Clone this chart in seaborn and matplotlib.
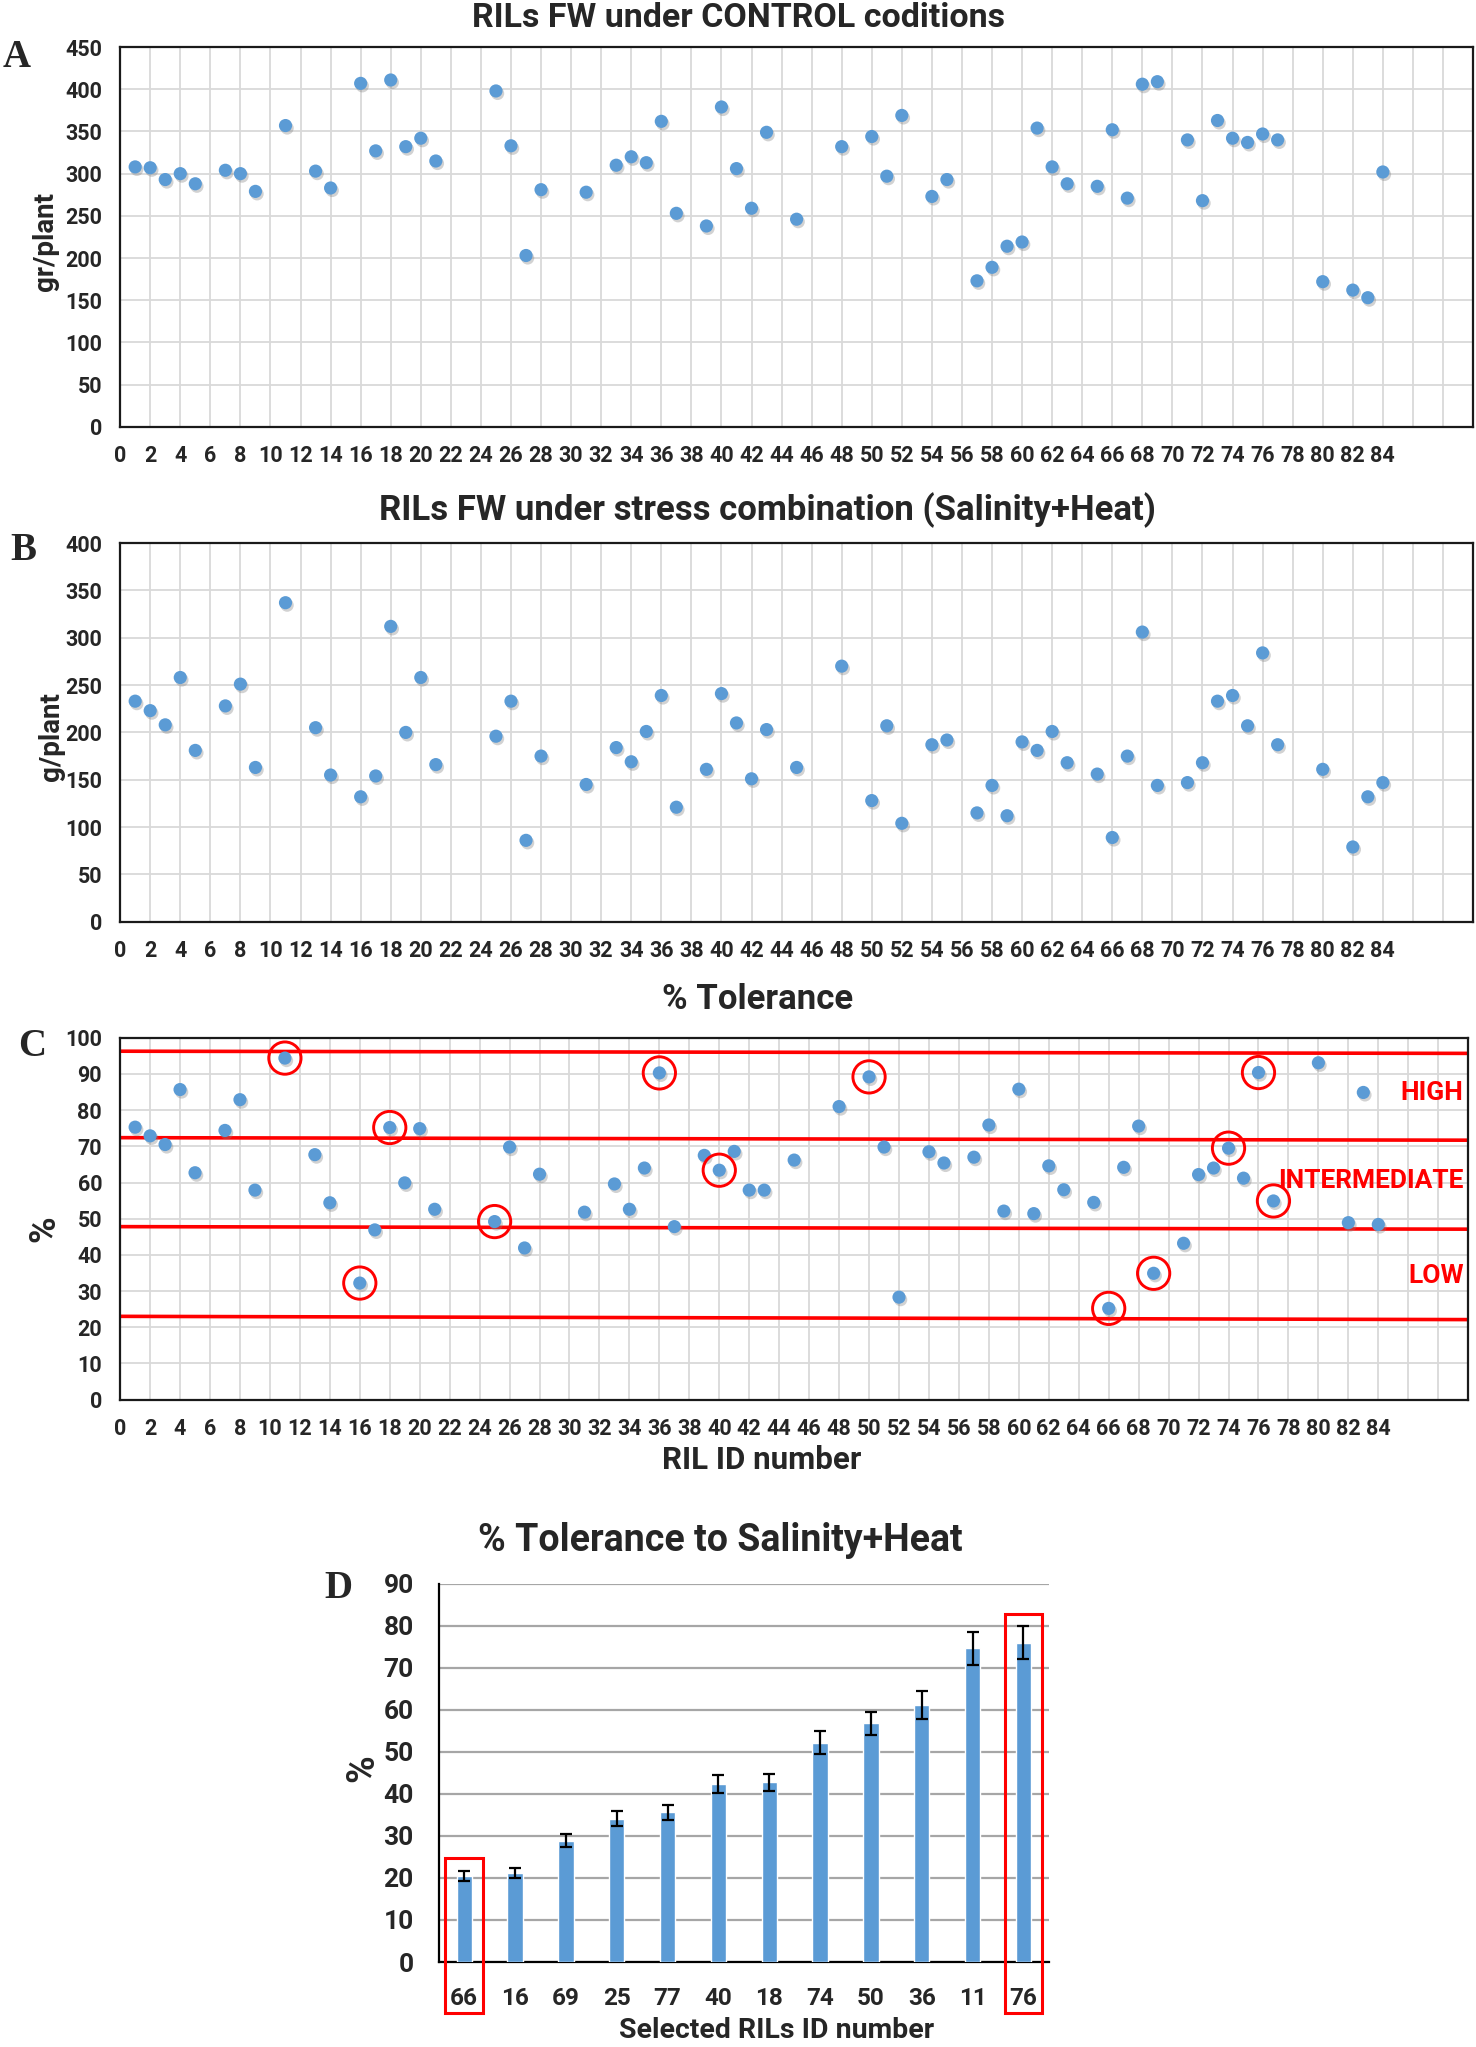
import numpy as np
import pandas as pd
import matplotlib
matplotlib.use("Agg")
import matplotlib.pyplot as plt
import matplotlib.patheffects as pe
from matplotlib.patches import Rectangle
import seaborn as sns

sns.set_theme(style="white")
plt.rcParams['font.family'] = ['Roboto', 'DejaVu Sans']

# ---------------- data ----------------
ril_ids = [1, 2, 3, 4, 5, 7, 8, 9, 11, 13, 14, 16, 17, 18, 19, 20, 21, 25, 26, 27, 28, 31,
           33, 34, 35, 36, 37, 39, 40, 41, 42, 43, 45, 48, 50, 51, 52, 54, 55, 57, 58, 59,
           60, 61, 62, 63, 65, 66, 67, 68, 69, 71, 72, 73, 74, 75, 76, 77, 80, 82, 83, 84]

fw_control = [308, 307, 293, 300, 288, 304, 300, 279, 357, 303, 283, 407, 327, 411, 332, 342,
              315, 398, 333, 203, 281, 278, 310, 320, 313, 362, 253, 238, 379, 306, 259, 349,
              246, 332, 344, 297, 369, 273, 293, 173, 189, 214, 219, 354, 308, 288, 285, 352,
              271, 406, 409, 340, 268, 363, 342, 337, 347, 340, 172, 162, 153, 302]

fw_stress = [233, 223, 208, 258, 181, 228, 251, 163, 337, 205, 155, 132, 154, 312, 200, 258,
             166, 196, 233, 86, 175, 145, 184, 169, 201, 239, 121, 161, 241, 210, 151, 203,
             163, 270, 128, 207, 104, 187, 192, 115, 144, 112, 190, 181, 201, 168, 156, 89,
             175, 306, 144, 147, 168, 233, 239, 207, 284, 187, 161, 79, 132, 147]

tolerance = [75.3, 72.9, 70.5, 85.7, 62.7, 74.4, 82.9, 57.9, 94.4, 67.7, 54.4, 32.2, 46.9, 75.2,
             59.9, 74.9, 52.6, 49.2, 69.8, 41.9, 62.3, 51.8, 59.6, 52.6, 64.0, 90.3, 47.8, 67.5,
             63.4, 68.6, 57.9, 57.9, 66.2, 81.0, 89.2, 69.8, 28.3, 68.5, 65.4, 67.0, 75.9, 52.1,
             85.8, 51.4, 64.6, 58.0, 54.5, 25.2, 64.2, 75.6, 34.9, 43.2, 62.2, 64.0, 69.5, 61.2,
             90.4, 54.9, 93.1, 48.9, 84.9, 48.4]

circled_ids = [11, 16, 18, 25, 36, 40, 50, 66, 69, 74, 76, 77]

threshold_left = [96.3, 72.4, 47.8, 23.0]
threshold_right = [95.7, 71.7, 47.1, 22.1]
class_labels = ["HIGH", "INTERMEDIATE", "LOW"]
class_label_y = [84.7, 60.5, 34.2]

sel_ids = ["66", "16", "69", "25", "77", "40", "18", "74", "50", "36", "11", "76"]
sel_tol = [20.5, 21.1, 28.9, 34.1, 35.6, 42.4, 42.7, 52.2, 56.8, 61.1, 74.6, 75.9]
sel_err = [1.2, 1.2, 1.5, 1.8, 1.8, 2.1, 2.0, 2.7, 2.7, 3.3, 3.9, 3.9]
boxed_ids = ["66", "76"]

x_max = 90
x_last_label = 84

BLUE = "#5B9BD5"
RED = "#FF0000"

fig = plt.figure(figsize=(14.76, 20.47), dpi=100)

axA = fig.add_axes([0.0814, 0.7915, 0.9166, 0.1855])
axB = fig.add_axes([0.0814, 0.5497, 0.9166, 0.1850])
axC = fig.add_axes([0.0814, 0.3163, 0.9133, 0.1767])
axD = fig.add_axes([0.2973, 0.0415, 0.4133, 0.1849])


def style_scatter_axes(ax, ymax, ystep):
    ax.set_xlim(0, x_max)
    ax.set_ylim(0, ymax)
    xt = list(range(0, x_max + 1, 2))
    ax.set_xticks(xt)
    ax.set_xticklabels([str(v) if v <= x_last_label else "" for v in xt])
    ax.set_yticks(list(range(0, ymax + 1, ystep)))
    ax.grid(True, color="#D9D9D9", lw=1.3)
    ax.set_axisbelow(True)
    for s in ax.spines.values():
        s.set_visible(True)
        s.set_color("#1a1a1a")
        s.set_linewidth(1.6)
    ax.tick_params(axis="x", length=0, labelsize=15.5, pad=13)
    ax.tick_params(axis="y", length=0, labelsize=15.5, pad=13)
    for lab in ax.get_xticklabels() + ax.get_yticklabels():
        lab.set_fontweight("bold")
    ax.set_xlabel("")
    ax.set_ylabel("")


def scatter(ax, yvals):
    df = pd.DataFrame({"RIL": ril_ids, "val": yvals})
    sns.scatterplot(data=df, x="RIL", y="val", ax=ax, color=BLUE, s=90,
                    edgecolor="none", zorder=3, legend=False)
    ax.collections[-1].set_path_effects(
        [pe.SimplePatchShadow(offset=(1.2, -1.8), shadow_rgbFace="#808080", alpha=0.35),
         pe.Normal()])


# ---- Panel A ----
scatter(axA, fw_control)
style_scatter_axes(axA, 450, 50)

# ---- Panel B ----
scatter(axB, fw_stress)
style_scatter_axes(axB, 400, 50)

# ---- Panel C ----
for yl, yr in zip(threshold_left, threshold_right):
    axC.plot([0, x_max], [yl, yr], color=RED, lw=2.6, zorder=2)
scatter(axC, tolerance)
circ = pd.DataFrame({"RIL": ril_ids, "val": tolerance})
circ = circ[circ["RIL"].isin(circled_ids)]
axC.scatter(circ["RIL"], circ["val"], s=540, facecolors="none", edgecolors=RED,
            linewidths=2.1, zorder=4)
for lab, yy in zip(class_labels, class_label_y):
    axC.text(x_max - 0.3, yy, lab, color=RED, ha="right", va="center",
             fontsize=19, fontweight="bold", zorder=5)
style_scatter_axes(axC, 100, 10)

# ---- Panel D ----
dfD = pd.DataFrame({"RIL": sel_ids, "tol": sel_tol})
sns.barplot(data=dfD, x="RIL", y="tol", order=sel_ids, color=BLUE, saturation=1,
            width=0.3, errorbar=None, ax=axD, zorder=3)
axD.errorbar(range(len(sel_ids)), sel_tol, yerr=sel_err, fmt="none", ecolor="black",
             elinewidth=1.6, capsize=4, capthick=1.6, zorder=4)
axD.set_ylim(0, 90)
axD.set_xlim(-0.5, len(sel_ids) - 0.5)
axD.set_yticks(list(range(0, 91, 10)))
axD.yaxis.grid(True, color="#A6A6A6", lw=1.6)
axD.xaxis.grid(False)
axD.set_axisbelow(True)
for side in ["top", "right"]:
    axD.spines[side].set_visible(False)
for side in ["left", "bottom"]:
    axD.spines[side].set_color("black")
    axD.spines[side].set_linewidth(1.6)
axD.tick_params(axis="x", length=0, labelsize=17.5, pad=18)
axD.tick_params(axis="y", length=0, labelsize=19, pad=18)
for lab in axD.get_xticklabels() + axD.get_yticklabels():
    lab.set_fontweight("bold")
axD.set_xlabel("")
axD.set_ylabel("")
for bid in boxed_ids:
    i = sel_ids.index(bid)
    top = sel_tol[i] + sel_err[i] + 3.0
    bottom = -12.2
    axD.add_patch(Rectangle((i - 0.37, bottom), 0.74, top - bottom, fill=False,
                            edgecolor=RED, lw=2.2, clip_on=False, zorder=6))

# ---- titles, labels, panel letters ----
fig.text(0.50, 0.991, "RILs FW under CONTROL coditions", ha="center", va="center",
         fontsize=24.5, fontweight="bold")
fig.text(0.52, 0.751, "RILs FW under stress combination (Salinity+Heat)", ha="center",
         va="center", fontsize=25, fontweight="bold")
fig.text(0.513, 0.5115, "% Tolerance", ha="center", va="center", fontsize=25,
         fontweight="bold")
fig.text(0.516, 0.287, "RIL ID number", ha="center", va="center", fontsize=22.5,
         fontweight="bold")
fig.text(0.488, 0.2474, "% Tolerance to Salinity+Heat", ha="center", va="center",
         fontsize=27, fontweight="bold")
fig.text(0.526, 0.008, "Selected RILs ID number", ha="center", va="center", fontsize=20.5,
         fontweight="bold")

fig.text(0.031, 0.882, "gr/plant", rotation=90, ha="center", va="center", fontsize=20,
         fontweight="bold")
fig.text(0.035, 0.640, "g/plant", rotation=90, ha="center", va="center", fontsize=20,
         fontweight="bold")
fig.text(0.030, 0.400, "%", rotation=90, ha="center", va="center", fontsize=26,
         fontweight="bold")
fig.text(0.246, 0.136, "%", rotation=90, ha="center", va="center", fontsize=27,
         fontweight="bold")

for letter, xx, yy in [("A", 0.011, 0.972), ("B", 0.016, 0.731), ("C", 0.022, 0.489),
                       ("D", 0.229, 0.224)]:
    fig.text(xx, yy, letter, ha="center", va="center", fontsize=28, fontweight="bold",
             family=["Liberation Serif", "DejaVu Serif"])

fig.savefig("out.png", dpi=100)
